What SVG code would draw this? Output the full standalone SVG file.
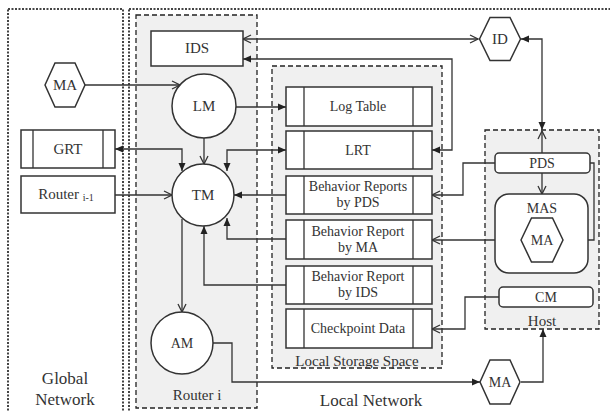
<svg xmlns="http://www.w3.org/2000/svg" width="610" height="412" viewBox="0 0 610 412">
<style>
.dot{fill:none;stroke:#444;stroke-width:2;stroke-dasharray:2 1.5}
.dash{fill:#f0f0f0;stroke:#222;stroke-width:1.3;stroke-dasharray:5 3}
.box{fill:#fff;stroke:#333;stroke-width:1.5}
.ln{fill:none;stroke:#333;stroke-width:1.3}
.c{stroke:#333;stroke-width:1.3;fill:none}
.fa{marker-end:url(#fa)}
.oa{marker-end:url(#oa)}
text{fill:#333;text-anchor:middle}
</style>
<defs>
<marker id="fa" viewBox="0 0 8 8" refX="8" refY="4" markerWidth="8" markerHeight="8" markerUnits="userSpaceOnUse" orient="auto-start-reverse"><path d="M0,0.5 L8,4 L0,7.5 z" fill="#222"/></marker>
<marker id="oa" viewBox="0 0 10 10" refX="9" refY="5" markerWidth="10" markerHeight="10" markerUnits="userSpaceOnUse" orient="auto-start-reverse"><path d="M1,1 L9,5 L1,9" fill="none" stroke="#333" stroke-width="1.3"/></marker>
</defs>
<g font-family="Liberation Serif, Tinos, DejaVu Serif, serif" font-size="14">
<g id="regions">
<rect class="dot" x="8" y="9" width="115" height="420"/>
<rect class="dot" x="129" y="9" width="500" height="420"/>
<rect class="dash" x="136" y="15" width="121" height="393"/>
<rect class="dash" x="272" y="66" width="170" height="302"/>
<rect class="dash" x="485" y="130" width="114" height="199"/>
<text x="65" y="384" font-size="17">Global</text>
<text x="65" y="405" font-size="17">Network</text>
<text x="371" y="406" font-size="17">Local Network</text>
<text x="197" y="400" font-size="15">Router i</text>
<text x="357" y="366" font-size="15">Local Storage Space</text>
<text x="542" y="326" font-size="15">Host</text>
</g>

<g id="connectors">
<path class="c oa" d="M85,85 H180"/>
<path class="c" d="M478,39 H243" marker-start="url(#oa)" marker-end="url(#oa)"/>
<path class="c" d="M243,59 H452 V150 H432" marker-start="url(#fa)" marker-end="url(#fa)"/>
<path class="c fa" d="M236,107 H286"/>
<path class="c oa" d="M204,138 V164"/>
<path class="c" d="M115,149 H182 V171" marker-start="url(#fa)" marker-end="url(#fa)"/>
<path class="c" d="M286,150 H227 V171" marker-start="url(#fa)" marker-end="url(#fa)"/>
<path class="c oa" d="M115,195 H172"/>
<path class="c fa" d="M286,195 H234"/>
<path class="c fa" d="M286,239 H227 V218"/>
<path class="c fa" d="M286,285 H204 V226"/>
<path class="c oa" d="M182,219 V312"/>
<path class="c fa" d="M213,343 H232 V382 H480"/>
<path class="c fa" d="M521,382 H543 V329"/>
<path class="c" d="M521,39 H542 V130" marker-start="url(#fa)" marker-end="url(#fa)"/>
<path class="c oa" d="M542,153 V131"/>
<path class="c oa" d="M495,163 H463 V195 H432"/>
<path class="c oa" d="M542,173 V194"/>
<path class="c oa" d="M590,163 H594 V240 H564"/>
<path class="c oa" d="M521,240 H432"/>
<path class="c oa" d="M499,297 H465 V329 H432"/>
</g>

<g id="IDS"><rect class="box" x="151" y="31" width="92" height="35"/><text x="197" y="53" font-size="15">IDS</text></g>
<g id="MA-global"><polygon class="box" points="45,85 55,63 75,63 85,85 75,107 55,107"/><text x="65" y="90" font-size="15">MA</text></g>
<g id="LM"><circle class="box" cx="204" cy="106" r="32"/><text x="204" y="111" font-size="15">LM</text></g>
<g id="TM"><circle class="box" cx="203" cy="195" r="31"/><text x="203" y="200" font-size="15">TM</text></g>
<g id="AM"><circle class="box" cx="182" cy="343" r="31"/><text x="182" y="348">AM</text></g>
<g id="GRT"><rect class="box" x="21" y="130" width="94" height="38"/><path class="ln" d="M33,130 V168 M103,130 V168"/><text x="68" y="154" font-size="15">GRT</text></g>
<g id="Router-i-1"><rect class="box" x="21" y="176" width="94" height="37"/><text x="66" y="199" font-size="15">Router <tspan font-size="10" dy="2">i-1</tspan></text></g>

<g id="LogTable"><rect class="box" x="286" y="87" width="146" height="39"/><path class="ln" d="M304,87 V126 M413,87 V126"/><text x="358" y="111">Log Table</text></g>
<g id="LRT"><rect class="box" x="286" y="131" width="146" height="38"/><path class="ln" d="M304,131 V169 M413,131 V169"/><text x="358" y="155">LRT</text></g>
<g id="BR-PDS"><rect class="box" x="286" y="176" width="146" height="38"/><path class="ln" d="M304,176 V214 M413,176 V214"/><text x="358" y="191">Behavior Reports</text><text x="358" y="207">by PDS</text></g>
<g id="BR-MA"><rect class="box" x="286" y="220" width="146" height="39"/><path class="ln" d="M304,220 V259 M413,220 V259"/><text x="358" y="236">Behavior Report</text><text x="358" y="252">by MA</text></g>
<g id="BR-IDS"><rect class="box" x="286" y="266" width="146" height="38"/><path class="ln" d="M304,266 V304 M413,266 V304"/><text x="358" y="281">Behavior Report</text><text x="358" y="297">by IDS</text></g>
<g id="Checkpoint"><rect class="box" x="286" y="309" width="146" height="39"/><path class="ln" d="M304,309 V348 M413,309 V348"/><text x="358" y="333">Checkpoint Data</text></g>

<g id="ID"><polygon class="box" points="479.5,39 490,17.5 510,17.5 520.5,39 510,60.5 490,60.5"/><text x="500" y="44" font-size="15">ID</text></g>
<g id="PDS"><rect class="box" x="495" y="153" width="95" height="20" rx="4"/><text x="542" y="168">PDS</text></g>
<g id="MAS"><rect class="box" x="495" y="194" width="93" height="79" rx="14"/><text x="542" y="213">MAS</text></g>
<g id="MA-MAS"><polygon class="box" points="521,240 531.5,218 552.5,218 563,240 552.5,262 531.5,262"/><text x="542" y="245">MA</text></g>
<g id="CM"><rect class="box" x="499" y="287" width="94" height="20" rx="4"/><text x="546" y="302">CM</text></g>
<g id="MA-local"><polygon class="box" points="480,382 490,360 510,360 520,382 510,404 490,404"/><text x="500" y="387">MA</text></g>
</g>
</svg>
